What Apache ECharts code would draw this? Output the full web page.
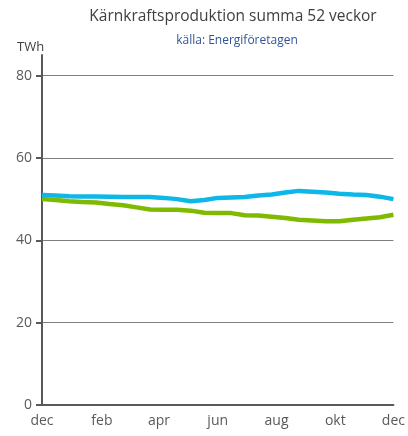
<!DOCTYPE html>
<html>
<head>
<meta charset="utf-8">
<script src="https://cdn.jsdelivr.net/npm/echarts@6/dist/echarts.min.js"></script>
<style>html,body{margin:0;padding:0;background:#fff}#c{width:408px;height:436px}</style>
</head>
<body>
<div id="c"></div>
<script>
const titleText = 'Kärnkraftsproduktion summa 52 veckor';
const subtitleText = 'källa: Energiföretagen';
const unitText = 'TWh';
const weeks = [0,2,4,6,8,10,12,14,16,18,20,22,24,26,28,30,32,34,36,38,40,42,44,46,48,50,52];
const blueSeries = [51.0,50.9,50.7,50.65,50.65,50.6,50.5,50.5,50.5,50.3,50.0,49.5,49.8,50.3,50.4,50.5,50.9,51.1,51.6,52.0,51.8,51.6,51.3,51.1,51.0,50.6,50.0];
const greenSeries = [50.0,49.8,49.5,49.3,49.2,48.8,48.5,48.0,47.5,47.4,47.4,47.2,46.7,46.6,46.6,46.1,46.0,45.7,45.4,45.0,44.8,44.6,44.6,45.0,45.3,45.6,46.2];
const monthLabels = ['dec','feb','apr','jun','aug','okt','dec'];
const monthWeeks = [0, 8.86, 17.3, 26, 34.7, 43.4, 52];
const yTicks = [0,20,40,60,80];

const font = '"Open Sans", sans-serif';
const chart = echarts.init(document.getElementById('c'), null, {renderer:'canvas'});
chart.setOption({
  animation: false,
  title: [
    {text: titleText, left: 228, top: 4, textAlign: 'center',
     textStyle: {fontFamily: font, fontSize: 15.5, fontWeight: 'normal', color: '#404040'}},
    {text: subtitleText, left: 232, top: 30, textAlign: 'center',
     textStyle: {fontFamily: font, fontSize: 12, fontWeight: 'normal', color: '#2F5597'}},
    {text: unitText, left: 12, top: 36,
     textStyle: {fontFamily: font, fontSize: 13, fontWeight: 'normal', color: '#404040'}}
  ],
  grid: {left: 42, right: 9, top: 55, bottom: 31, containLabel: false},
  xAxis: {
    type: 'value', min: 0, max: 52,
    axisLine: {show: true, onZero: false, lineStyle: {color: '#595959', width: 2}},
    axisTick: {show: false},
    splitLine: {show: false},
    axisLabel: {
      customValues: monthWeeks,
      fontFamily: font, fontSize: 14, color: '#595959', margin: 9,
      formatter: function (v) { const i = monthWeeks.indexOf(v); return i >= 0 ? monthLabels[i] : ''; }
    }
  },
  yAxis: {
    type: 'value', min: 0, max: 85,
    axisLine: {show: true, lineStyle: {color: '#595959', width: 2}},
    axisTick: {show: true, customValues: yTicks, length: 6, inside: false, lineStyle: {color: '#595959', width: 2}},
    axisLabel: {customValues: yTicks, fontFamily: font, fontSize: 14, color: '#595959', margin: 10},
    splitLine: {show: true, showMinLine: false, lineStyle: {color: '#7f7f7f', width: 1}}
  },
  series: [
    {type: 'line', data: weeks.map((w, i) => [w, blueSeries[i]]), showSymbol: false, symbol: 'none',
     lineStyle: {color: '#0DB7E8', width: 4.5}, z: 3},
    {type: 'line', data: weeks.map((w, i) => [w, greenSeries[i]]), showSymbol: false, symbol: 'none',
     lineStyle: {color: '#7DBA00', width: 4.5}, z: 2}
  ]
});
</script>
</body>
</html>
